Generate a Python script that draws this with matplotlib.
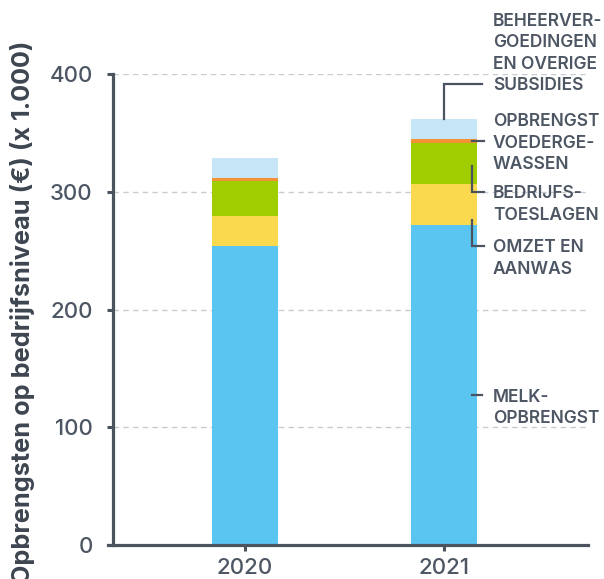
import numpy as np
import matplotlib.pyplot as plt

plt.rcParams['font.family'] = ['Inter', 'DejaVu Sans']

# Opbrengsten per jaar (x 1.000 euro), van onder naar boven gestapeld
jaren = ['2020', '2021']
melkopbrengst = [254, 272]
omzet_aanwas = [25, 35]
bedrijfstoeslagen = [30, 34]
voedergewassen = [3, 4]
beheervergoedingen = [17, 17]

reeksen = [melkopbrengst, omzet_aanwas, bedrijfstoeslagen, voedergewassen, beheervergoedingen]
kleuren = ['#5bc5f2', '#fad94e', '#9fcd00', '#f39234', '#c6e6f8']
labels = ['MELK-\nOPBRENGST', 'OMZET EN\nAANWAS', 'BEDRIJFS-\nTOESLAGEN',
          'OPBRENGST\nVOEDERGE-\nWASSEN', 'BEHEERVER-\nGOEDINGEN\nEN OVERIGE\nSUBSIDIES']
# welke regel van elk label bij de verbindingslijn staat
anker_regel = [0, 0, 0, 1, 3]

as_kleur = '#4a535e'
tekst_kleur = '#4d5663'

fig = plt.figure(figsize=(6.04, 5.79), dpi=100)
ax = fig.add_axes([113 / 604, 34 / 579, 475 / 604, 471 / 579])

x = np.arange(len(jaren))
onder = np.zeros(len(jaren))
for waarden, kleur in zip(reeksen, kleuren):
    ax.bar(x, waarden, width=0.33, bottom=onder, color=kleur, zorder=3)
    onder += np.array(waarden)

ax.set_xlim(-0.663, 1.724)
ax.set_ylim(0, 400)
ax.set_xticks(x, jaren)
ax.set_yticks([0, 100, 200, 300, 400])

for kant in ['top', 'right']:
    ax.spines[kant].set_visible(False)
for kant in ['left', 'bottom']:
    ax.spines[kant].set_color(as_kleur)
    ax.spines[kant].set_linewidth(2.3)
    ax.spines[kant].set_zorder(4)
ax.spines['bottom'].set_bounds(-0.69, 1.724)

ax.tick_params(axis='both', colors=as_kleur, width=2.2, length=4.5,
               labelsize=16, labelcolor=tekst_kleur)
for lab in ax.get_xticklabels() + ax.get_yticklabels():
    lab.set_fontweight('medium')
ax.tick_params(axis='y', pad=10)
ax.tick_params(axis='x', pad=5)

ax.yaxis.grid(True, color='#c8ccd1', linestyle=(0, (4, 3)), linewidth=1.0)
ax.set_axisbelow(True)

fig.text(23 / 604, 1 - 312 / 579, 'Opbrengsten op bedrijfsniveau (€) (x 1.000)',
         rotation=90, ha='center', va='center', fontsize=18.2, fontweight='bold',
         color='#3d4550')

# Verbindingslijnen van de 2021-staaf naar de labels
cum = np.cumsum([r[1] for r in reeksen])
top = cum[-1]
oranje_mid = cum[3] - voedergewassen[1] / 2
lijnen = [
    ([1.14, 1.19], [127, 127]),
    ([1.14, 1.14, 1.2], [276, 254, 254]),
    ([1.14, 1.14, 1.2], [322, 300, 300]),
    ([1.14, 1.2], [oranje_mid, oranje_mid]),
    ([1.0, 1.0, 1.19], [top, 391.5, 391.5]),
]
for lx, ly in lijnen:
    ax.plot(lx, ly, color=as_kleur, linewidth=1.6, clip_on=False, zorder=5,
            solid_joinstyle='miter')

regelafstand = 15.5
tekst_x = 1.246
for lab, anker, (lx, ly) in zip(labels, anker_regel, lijnen):
    for k, regel in enumerate(lab.split('\n')):
        ax.annotate(regel, xy=(tekst_x, ly[-1]),
                    xytext=(0, -(k - anker) * regelafstand - 4.6),
                    textcoords='offset points', ha='left', va='baseline',
                    fontsize=12.5, fontweight='semibold', color=tekst_kleur,
                    annotation_clip=False)

fig.savefig('out.png', dpi=100)
